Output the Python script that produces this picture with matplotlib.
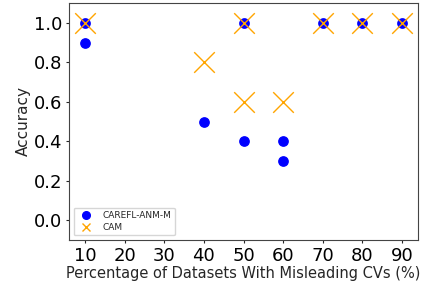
import matplotlib
matplotlib.use("Agg")
import matplotlib.pyplot as plt
from matplotlib.lines import Line2D

carefl_x = [10, 10, 40, 50, 50, 60, 60, 70, 80, 90]
carefl_y = [1.0, 0.9, 0.5, 1.0, 0.4, 0.4, 0.3, 1.0, 1.0, 1.0]
cam_x = [10, 40, 50, 50, 60, 70, 80, 90]
cam_y = [1.0, 0.8, 1.0, 0.6, 0.6, 1.0, 1.0, 1.0]
xticks = [10, 20, 30, 40, 50, 60, 70, 80, 90]
yticks = [0.0, 0.2, 0.4, 0.6, 0.8, 1.0]

txt = '#262626'
fig = plt.figure(figsize=(4.22, 2.86), dpi=100)
ax = fig.add_axes([69/422, 46/286, 349/422, 237/286])
ax.scatter(carefl_x, carefl_y, s=45, c='blue', marker='o', label='CAREFL-ANM-M', zorder=2)
ax.scatter(cam_x, cam_y, s=220, c='orange', marker='x', linewidths=1.0, label='CAM', zorder=3)
ax.set_xlim(6, 94)
ax.set_ylim(-0.1, 1.1)
ax.set_xticks(xticks)
ax.set_yticks(yticks)
ax.set_xticklabels([str(v) for v in xticks])
ax.set_yticklabels([f"{v:.1f}" for v in yticks])
ax.tick_params(labelsize=13, colors=txt, labelcolor='black', length=2.5, pad=2.5)
for sp in ax.spines.values():
    sp.set_color('#444444')
ax.set_xlabel('Percentage of Datasets With Misleading CVs (%)', fontsize=10.5, color=txt, labelpad=1)
ax.set_ylabel('Accuracy', fontsize=11, color=txt, labelpad=2)
handles = [
    Line2D([], [], linestyle='none', marker='o', color='blue', markersize=5.5),
    Line2D([], [], linestyle='none', marker='x', color='orange', markersize=6, markeredgewidth=1.0),
]
ax.legend(handles, ['CAREFL-ANM-M', 'CAM'], loc='lower left', fontsize=6.5,
          labelcolor=txt, labelspacing=0.3, borderpad=0.4, handletextpad=0.8)
fig.savefig('out.png', dpi=100)
